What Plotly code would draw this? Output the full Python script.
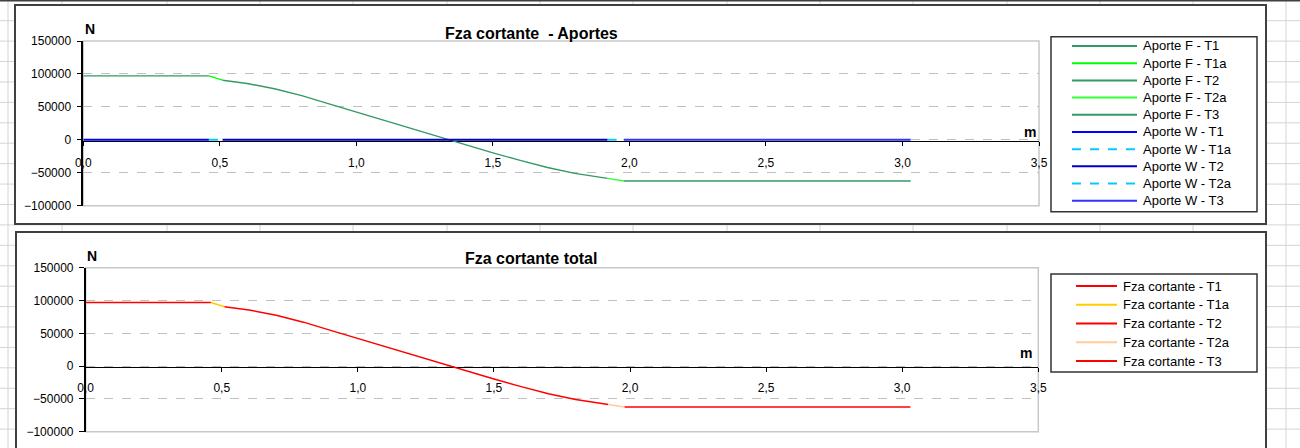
import plotly.graph_objects as go

W_PX, H_PX = 1300, 448

# ---- Sections along the footing (m) ----
x_T1 = [0.0, 0.46]
x_T1a = [0.46, 0.51]
x_T2 = [0.51, 0.6, 0.7, 0.8, 0.9, 1.0, 1.1, 1.2, 1.3, 1.4, 1.5, 1.6, 1.7, 1.8, 1.92]
x_T2a = [1.92, 1.98]
x_T3 = [1.98, 3.03]

# ---- Shear contribution of F (N) ----
f_T1 = [97000, 97000]
f_T1a = [97000, 90500]
f_T2 = [90500, 85500, 77500, 67000, 54500, 42000, 29500, 17000, 4500,
        -7800, -19800, -31300, -42000, -51000, -58500]
f_T2a = [-58500, -62500]
f_T3 = [-62500, -62500]

# ---- Shear contribution of W (N) ----
w_T1 = [0, 0]
w_T1a = [0, 0]
w_T2 = [0, 0]
w_T2_x = [0.51, 1.92]
w_T2a = [0, 0]
w_T3 = [0, 0]

# ---- Total shear force (N) ----
v_T1 = [97000, 97000]
v_T1a = [97000, 90500]
v_T2 = [90500, 85500, 77500, 67000, 54500, 42000, 29500, 17000, 4500,
        -7800, -19800, -31300, -42000, -51000, -58500]
v_T2a = [-58500, -62500]
v_T3 = [-62500, -62500]

# Series definitions: (name, x, y, colour, dash)
aportes = [
    ("Aporte F - T1", x_T1, f_T1, "#339966", "solid"),
    ("Aporte F - T1a", x_T1a, f_T1a, "#00FF00", "solid"),
    ("Aporte F - T2", x_T2, f_T2, "#339966", "solid"),
    ("Aporte F - T2a", x_T2a, f_T2a, "#33FF33", "solid"),
    ("Aporte F - T3", x_T3, f_T3, "#339966", "solid"),
    ("Aporte W - T1", x_T1, w_T1, "#0000FF", "solid"),
    ("Aporte W - T1a", x_T1a, w_T1a, "#00CCFF", "dash"),
    ("Aporte W - T2", w_T2_x, w_T2, "#0000CC", "solid"),
    ("Aporte W - T2a", x_T2a, w_T2a, "#00CCFF", "dash"),
    ("Aporte W - T3", x_T3, w_T3, "#3333FF", "solid"),
]
totales = [
    ("Fza cortante - T1", x_T1, v_T1, "#FF0000", "solid"),
    ("Fza cortante - T1a", x_T1a, v_T1a, "#FFCC00", "solid"),
    ("Fza cortante - T2", x_T2, v_T2, "#FF0000", "solid"),
    ("Fza cortante - T2a", x_T2a, v_T2a, "#FFCC99", "solid"),
    ("Fza cortante - T3", x_T3, v_T3, "#FF0000", "solid"),
]

FONT = "Liberation Sans, Arial, sans-serif"


def px(x):
    return x / W_PX


def py(y):
    return 1 - y / H_PX


fig = go.Figure()

for name, xs, ys, col, dash in aportes:
    is_w = "W" in name
    fig.add_trace(go.Scatter(
        x=xs, y=ys, name=name, mode="lines", xaxis="x", yaxis="y",
        line=dict(color=col, width=2.0 if is_w else 1.4, dash=dash),
        showlegend=False))

for name, xs, ys, col, dash in totales:
    fig.add_trace(go.Scatter(
        x=xs, y=ys, name=name, mode="lines", xaxis="x2", yaxis="y2",
        line=dict(color=col, width=1.5, dash=dash),
        showlegend=False))

# Panel geometry (pixels)
panels = [
    dict(x0=83.3, x1=1039.0, ytop=41.0, ybot=205.7, yzero=141.0,
         box=(15, 5, 1266, 224)),
    dict(x0=85.7, x1=1038.3, ytop=267.7, ybot=431.7, yzero=366.5,
         box=(16, 232, 1266, 455)),
]

xaxis_common = dict(
    range=[0, 3.5], dtick=0.5, tick0=0, tickformat=".1f",
    showline=True, linecolor="black", linewidth=1.4,
    ticks="outside", ticklen=4, tickcolor="black", tickwidth=1,
    tickfont=dict(family=FONT, size=12, color="black"),
    ticklabelstandoff=6,
    showgrid=False, zeroline=False, anchor="free", fixedrange=True,
)
yaxis_common = dict(
    range=[-100000, 150000], dtick=50000, tick0=0, tickformat="d",
    showline=True, linecolor="black", linewidth=1.6,
    ticks="outside", ticklen=5, tickcolor="black", tickwidth=1,
    tickfont=dict(family=FONT, size=12, color="black"),
    ticklabelstandoff=3,
    showgrid=True, gridcolor="#C0C0C0", griddash="dash", gridwidth=1,
    zeroline=False, fixedrange=True,
)

p0, p1 = panels
layout = dict(
    width=W_PX, height=H_PX, autosize=False,
    margin=dict(l=0, r=0, t=0, b=0, autoexpand=False),
    paper_bgcolor="white", plot_bgcolor="rgba(0,0,0,0)",
    separators=",.",
    xaxis=dict(xaxis_common, domain=[px(p0["x0"]), px(p0["x1"])],
               position=py(p0["yzero"]), layer="below traces"),
    yaxis=dict(yaxis_common, domain=[py(p0["ybot"]), py(p0["ytop"])], anchor="x"),
    xaxis2=dict(xaxis_common, domain=[px(p1["x0"]), px(p1["x1"])],
                position=py(p1["yzero"]), layer="below traces"),
    yaxis2=dict(yaxis_common, domain=[py(p1["ybot"]), py(p1["ytop"])], anchor="x2"),
)
fig.update_layout(**layout)

shapes = []

# Worksheet cell grid behind the charts
cols = [8, 62, 167, 260, 353, 447, 540, 633, 727, 820, 913, 1007, 1100, 1193, 1286]
rows = [20.7 + 20.42 * k for k in range(22)]
for cx in cols:
    shapes.append(dict(type="line", xref="paper", yref="paper", layer="below",
                       x0=px(cx), x1=px(cx), y0=0, y1=1,
                       line=dict(color="#D4D4D4", width=1)))
for ry in rows:
    shapes.append(dict(type="line", xref="paper", yref="paper", layer="below",
                       x0=0, x1=1, y0=py(ry), y1=py(ry),
                       line=dict(color="#D4D4D4", width=1)))
shapes.append(dict(type="line", xref="paper", yref="paper", layer="below",
                   x0=0, x1=1, y0=py(0.7), y1=py(0.7),
                   line=dict(color="#404040", width=1.5)))

# Chart frames and plot-area borders
for p in panels:
    bx0, by0, bx1, by1 = p["box"]
    shapes.append(dict(type="rect", xref="paper", yref="paper", layer="below",
                       x0=px(bx0), x1=px(bx1), y0=py(by1), y1=py(by0),
                       fillcolor="white", line=dict(color="#404040", width=2)))
    shapes.append(dict(type="rect", xref="paper", yref="paper", layer="below",
                       x0=px(p["x0"]), x1=px(p["x1"]),
                       y0=py(p["ybot"]), y1=py(p["ytop"]),
                       line=dict(color="#C8C8C8", width=1.5)))

annotations = []

# Titles and axis units
for text, cx, cy in [("Fza cortante  - Aportes", 531, 33),
                     ("Fza cortante total", 530.5, 258)]:
    annotations.append(dict(text=f"<b>{text}</b>", x=px(cx), y=py(cy),
                            xref="paper", yref="paper", showarrow=False,
                            xanchor="center", yanchor="middle",
                            font=dict(family=FONT, size=16, color="black")))
for text, cx, cy in [("N", 89.5, 29), ("m", 1030, 132),
                     ("N", 92, 256), ("m", 1026, 353)]:
    annotations.append(dict(text=f"<b>{text}</b>", x=px(cx), y=py(cy),
                            xref="paper", yref="paper", showarrow=False,
                            xanchor="center", yanchor="middle",
                            font=dict(family=FONT, size=14, color="black")))

# Legends
legends = [
    dict(series=aportes, box=(1051, 36.7, 1257, 211.7), y0=46.0, dy=17.19,
         lx0=1072, lx1=1137, tx=1141),
    dict(series=totales, box=(1051, 274, 1257, 372), y0=286.0, dy=18.75,
         lx0=1076, lx1=1117, tx=1121),
]
for lg in legends:
    bx0, by0, bx1, by1 = lg["box"]
    shapes.append(dict(type="rect", xref="paper", yref="paper", layer="above",
                       x0=px(bx0), x1=px(bx1), y0=py(by1), y1=py(by0),
                       fillcolor="white", line=dict(color="#333333", width=1.5)))
    for i, (name, _xs, _ys, col, dash) in enumerate(lg["series"]):
        yy = lg["y0"] + lg["dy"] * i
        shapes.append(dict(type="line", xref="paper", yref="paper", layer="above",
                           x0=px(lg["lx0"]), x1=px(lg["lx1"]), y0=py(yy), y1=py(yy),
                           line=dict(color=col, width=2, dash=dash)))
        annotations.append(dict(text=name, x=px(lg["tx"]), y=py(yy),
                                xref="paper", yref="paper", showarrow=False,
                                xanchor="left", yanchor="middle",
                                font=dict(family=FONT, size=13, color="black")))

fig.update_layout(shapes=shapes, annotations=annotations)

fig.write_html(
    "out.html",
    config={"responsive": False, "displayModeBar": False},
    default_width=f"{W_PX}px",
    default_height=f"{H_PX}px",
    post_script="document.body.style.margin='0';document.body.style.overflow='hidden';",
)
